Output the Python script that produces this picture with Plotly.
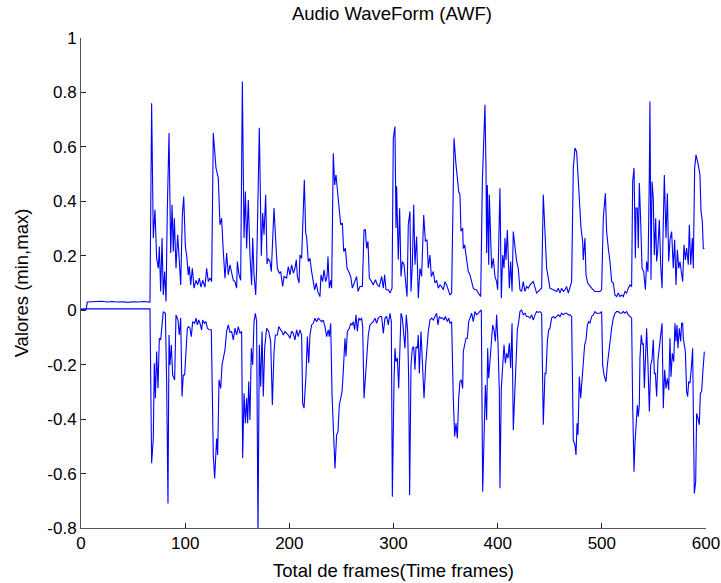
import plotly.graph_objects as go

# ---- data (frames, values) ----
upper_x = [0, 5, 6, 10, 15, 20, 25, 30, 35, 40, 45, 50, 55, 60, 66.2,
           67.8, 69.4, 71.0, 72.6, 74.2, 75.2, 76.5, 77.8, 79.0, 80.3, 81.6, 82.9, 84.5, 86.1, 87.4,
           88.6, 89.6, 91.2, 92.8, 94.4, 95.7, 97.3, 98.6, 100.2, 101.4, 103.0, 104.0, 105.3, 106.9,
           108.5, 110.4, 112.0, 113.6, 115.2, 116.8, 119.0, 120.6, 122.2, 123.8, 125.4, 127.0, 129.6,
           131.8, 133.4, 135.0, 136.6, 138.2, 139.8, 141.4, 143.0, 144.6, 146.2, 147.8, 149.4, 150.1,
           151.7, 153.3, 154.9, 156.5, 157.8, 159.0, 160.6, 162.2, 163.8, 164.8, 166.1, 167.7, 168.6,
           171.2, 173.1, 174.4, 175.7, 177.3, 178.6, 179.8, 181.4, 182.7, 185.3, 187.2, 188.5, 190.4,
           191.7, 193.6, 194.9, 197.4, 199.0, 200.6, 202.2, 203.8, 205.4, 206.7, 207.7, 209.3, 210.2,
           211.8, 214.4, 215.7, 216.6, 218.2, 219.8, 221.4, 223.0, 224.3, 225.9, 227.2, 229.4, 230.4,
           232.0, 233.3, 234.9, 236.2, 237.1, 238.4, 239.7, 240.6, 242.2, 243.5, 244.8, 247.0, 249.3,
           250.9, 252.2, 253.8, 255.4, 257.0, 258.9, 260.5, 263.0, 264.6, 265.9, 267.8, 270.1, 271.7,
           273.0, 274.2, 275.5, 276.8, 279.0, 280.6, 282.6, 284.5, 286.4, 288.6, 290.2, 291.5, 292.8,
           295.0, 296.6, 298.6, 299.8, 301.4, 302.4, 303.0, 304.6, 305.9, 307.2, 308.5, 310.1, 311.4,
           313.0, 314.2, 315.8, 316.8, 318.1, 319.4, 320.6, 322.2, 323.8, 325.4, 327.0, 329.0, 330.6,
           332.2, 333.4, 335.0, 336.3, 338.2, 339.8, 341.4, 343.0, 344.6, 346.2, 347.8, 349.4, 351.0,
           352.6, 354.2, 355.8, 358.1, 360.0, 361.3, 362.6, 363.8, 364.8, 366.4, 367.0, 368.3, 370.2,
           371.8, 373.4, 375.0, 376.6, 378.2, 379.8, 381.4, 383.7, 385.3, 387.8, 388.8, 389.4, 390.1,
           391.4, 392.0, 394.2, 395.8, 397.4, 399.0, 400.0, 402.2, 403.5, 404.8, 406.1, 407.0, 408.0,
           409.3, 411.2, 412.5, 413.8, 415.0, 416.6, 418.2, 419.8, 421.4, 423.0, 424.6, 426.2, 427.8,
           429.4, 431.0, 434.2, 435.8, 437.4, 439.0, 440.6, 442.2, 443.8, 445.4, 447.0, 448.6, 450.2,
           453.4, 456.6, 458.2, 459.8, 461.4, 463.0, 464.6, 466.2, 467.8, 469.4, 471.0, 472.6, 474.2,
           475.8, 477.4, 478.4, 480.0, 481.6, 482.2, 483.8, 484.8, 486.4, 488.6, 490.2, 491.8, 493.4,
           495.0, 498.2, 499.8, 501.4, 503.4, 504.6, 506.2, 507.8, 509.4, 511.0, 512.6, 514.2, 515.8,
           517.4, 519.0, 520.6, 522.2, 523.8, 525.4, 527.0, 528.6, 529.6, 530.9, 532.2, 532.8, 534.1,
           535.0, 536.0, 537.3, 538.6, 540.2, 541.8, 543.0, 544.3, 545.6, 546.2, 547.2, 548.2, 549.4,
           550.4, 551.7, 552.6, 553.6, 555.2, 556.5, 557.8, 558.7, 560.0, 561.6, 562.9, 564.2, 565.4,
           567.0, 568.6, 569.9, 571.2, 572.5, 573.8, 575.0, 576.3, 577.6, 578.9, 580.2, 581.4, 583.0,
           584.0, 585.3, 586.9, 587.8, 589.1, 590.4, 592.6, 594.2, 595.2, 596.5, 597.4, 598.4]
upper_y = [0.003, 0.004, 0.030, 0.031, 0.030, 0.033, 0.030, 0.032, 0.030, 0.031, 0.029, 0.031, 0.030, 0.032, 0.030,
           0.760, 0.265, 0.369, 0.191, 0.154, 0.234, 0.069, 0.265, 0.056, 0.142, 0.032, 0.375, 0.651, 0.210, 0.387,
           0.216, 0.338, 0.154, 0.277, 0.179, 0.093, 0.350, 0.418, 0.234, 0.203, 0.130, 0.161, 0.093, 0.154,
           0.081, 0.110, 0.093, 0.118, 0.085, 0.110, 0.085, 0.154, 0.105, 0.118, 0.105, 0.651, 0.522,
           0.485, 0.314, 0.338, 0.216, 0.118, 0.210, 0.130, 0.167, 0.142, 0.110, 0.105, 0.081, 0.179,
           0.130, 0.110, 0.840, 0.265, 0.436, 0.227, 0.405, 0.203, 0.093, 0.265, 0.130, 0.056, 0.154,
           0.670, 0.200, 0.357, 0.277, 0.424, 0.170, 0.190, 0.179, 0.142, 0.375, 0.234, 0.154, 0.136,
           0.142, 0.087, 0.124, 0.118, 0.160, 0.130, 0.167, 0.136, 0.154, 0.185, 0.124, 0.100, 0.203,
           0.191, 0.479, 0.283, 0.270, 0.179, 0.191, 0.142, 0.105, 0.075, 0.100, 0.069, 0.050, 0.130,
           0.105, 0.148, 0.105, 0.124, 0.197, 0.081, 0.110, 0.081, 0.577, 0.460, 0.497, 0.400, 0.314,
           0.320, 0.216, 0.228, 0.154, 0.142, 0.124, 0.081, 0.105, 0.124, 0.069, 0.087, 0.087, 0.295,
           0.295, 0.227, 0.253, 0.118, 0.105, 0.093, 0.112, 0.093, 0.087, 0.124, 0.081, 0.130, 0.075,
           0.075, 0.063, 0.081, 0.632, 0.675, 0.302, 0.455, 0.185, 0.375, 0.124, 0.179, 0.167, 0.105,
           0.050, 0.314, 0.363, 0.069, 0.167, 0.387, 0.167, 0.271, 0.044, 0.154, 0.124, 0.350, 0.253,
           0.259, 0.154, 0.203, 0.124, 0.142, 0.100, 0.110, 0.081, 0.093, 0.087, 0.075, 0.105, 0.093,
           0.075, 0.056, 0.063, 0.632, 0.535, 0.485, 0.436, 0.424, 0.290, 0.302, 0.227, 0.240, 0.179,
           0.142, 0.130, 0.105, 0.081, 0.075, 0.075, 0.063, 0.050, 0.473, 0.755, 0.522, 0.210, 0.460,
           0.167, 0.424, 0.154, 0.191, 0.124, 0.105, 0.075, 0.448, 0.044, 0.203, 0.154, 0.265, 0.185,
           0.295, 0.081, 0.179, 0.069, 0.289, 0.240, 0.179, 0.154, 0.075, 0.069, 0.105, 0.069, 0.087,
           0.081, 0.093, 0.105, 0.087, 0.063, 0.069, 0.075, 0.081, 0.424, 0.302, 0.154, 0.118, 0.081,
           0.075, 0.069, 0.081, 0.063, 0.081, 0.069, 0.075, 0.087, 0.063, 0.081, 0.105, 0.522, 0.596,
           0.583, 0.455, 0.375, 0.302, 0.253, 0.185, 0.265, 0.130, 0.100, 0.087, 0.081, 0.075, 0.069,
           0.069, 0.069, 0.075, 0.338, 0.430, 0.289, 0.228, 0.179, 0.105, 0.100, 0.056, 0.050, 0.063,
           0.050, 0.056, 0.050, 0.069, 0.063, 0.081, 0.093, 0.087, 0.473, 0.522, 0.191, 0.375, 0.375,
           0.228, 0.467, 0.326, 0.154, 0.142, 0.075, 0.179, 0.142, 0.497, 0.767, 0.112, 0.473, 0.412,
           0.203, 0.338, 0.179, 0.216, 0.332, 0.167, 0.081, 0.265, 0.497, 0.265, 0.430, 0.179, 0.259,
           0.289, 0.154, 0.259, 0.093, 0.222, 0.154, 0.179, 0.130, 0.105, 0.240, 0.185, 0.228, 0.167,
           0.314, 0.167, 0.265, 0.154, 0.522, 0.571, 0.534, 0.497, 0.363, 0.326, 0.228, 0.225]

lower_x = [0, 4, 66.2,
           67.8, 69.4, 70.4, 71.4, 72.6, 73.9, 75.2, 76.5, 77.8, 79.0, 81.0, 82.2, 83.5, 84.5, 85.4,
           86.7, 88.0, 89.9, 91.2, 93.1, 94.4, 95.7, 97.0, 98.2, 99.5, 100.8, 102.1, 103.4, 104.6,
           105.9, 107.2, 109.1, 110.4, 111.7, 113.0, 114.2, 115.8, 116.8, 118.4, 120.0, 121.3, 123.2,
           125.1, 127.0, 128.3, 130.2, 131.2, 132.5, 134.1, 135.4, 136.6, 138.2, 139.8, 141.4, 143.0,
           144.6, 146.2, 147.8, 149.4, 151.0, 152.6, 154.2, 155.2, 156.5, 157.8, 159.0, 160.0, 161.0,
           162.2, 163.5, 164.8, 166.1, 167.4, 168.6, 169.9, 171.2, 172.5, 173.8, 175.0, 176.3, 178.2,
           180.2, 182.1, 183.7, 185.3, 186.6, 188.5, 189.8, 191.7, 193.0, 194.2, 195.8, 197.4, 199.0,
           200.6, 202.2, 203.8, 205.4, 207.0, 208.6, 210.2, 211.8, 212.8, 214.1, 216.0, 217.3, 218.6,
           219.8, 221.4, 223.0, 224.6, 226.2, 227.8, 229.4, 231.0, 232.6, 234.2, 235.8, 237.4, 238.4,
           239.7, 241.0, 242.2, 243.8, 245.4, 246.7, 248.0, 249.3, 250.6, 251.8, 253.4, 254.4, 255.7,
           257.6, 258.9, 260.2, 261.4, 262.7, 264.0, 265.3, 266.6, 267.8, 269.4, 270.4, 271.7, 273.0,
           274.2, 275.8, 277.4, 279.4, 280.6, 282.2, 283.8, 285.4, 287.0, 288.6, 290.2, 291.8, 293.4,
           295.0, 296.6, 297.9, 298.9, 300.5, 301.4, 302.4, 303.7, 305.0, 306.2, 307.2, 308.5, 309.4,
           311.0, 312.3, 313.6, 314.6, 315.5, 316.8, 318.1, 319.4, 320.6, 321.6, 322.9, 323.8, 324.8,
           326.4, 328.0, 329.3, 330.9, 332.2, 333.4, 335.0, 336.6, 338.2, 339.8, 341.4, 342.7, 344.0,
           345.3, 347.2, 348.5, 349.8, 351.7, 353.0, 354.2, 355.8, 357.4, 358.7, 360.0, 361.3, 362.6,
           363.8, 365.1, 366.4, 367.0, 368.3, 369.6, 370.9, 372.2, 373.4, 375.0, 376.6, 378.2, 379.8,
           381.4, 383.0, 384.3, 385.6, 386.9, 388.2, 389.4, 390.4, 391.4, 392.6, 393.9, 395.2, 396.5,
           397.8, 399.0, 400.3, 401.6, 402.2, 403.5, 404.8, 406.1, 407.4, 408.6, 409.9, 411.2, 412.5,
           413.8, 415.0, 416.3, 417.6, 418.9, 420.2, 421.4, 423.0, 424.6, 426.2, 427.8, 429.4, 431.0,
           432.6, 434.2, 435.8, 437.4, 439.0, 440.6, 442.2, 443.8, 445.4, 446.4, 447.7, 449.0, 450.2,
           451.8, 453.4, 455.0, 456.6, 458.2, 459.8, 461.4, 463.0, 464.6, 466.2, 467.8, 469.4, 471.0,
           472.6, 474.2, 475.2, 476.2, 477.1, 478.4, 479.7, 481.0, 482.2, 483.5, 484.8, 486.1, 487.4,
           488.6, 490.2, 491.8, 493.4, 495.0, 496.6, 498.2, 499.8, 500.8, 502.1, 504.0, 505.3, 506.6,
           507.8, 509.4, 511.0, 512.6, 514.2, 515.8, 517.4, 519.0, 520.6, 522.2, 523.8, 525.4, 527.0,
           528.6, 529.6, 530.9, 531.8, 532.8, 534.1, 535.0, 536.0, 536.6, 537.9, 538.9, 539.8, 540.8,
           542.1, 543.0, 544.3, 545.6, 546.9, 548.2, 549.4, 550.4, 551.4, 552.6, 553.9, 555.2, 556.5,
           557.8, 559.0, 560.3, 561.6, 562.9, 564.2, 565.4, 566.4, 567.7, 569.0, 570.2, 571.2, 572.2,
           573.1, 574.4, 575.7, 576.6, 577.6, 578.2, 579.2, 580.2, 581.4, 582.4, 583.4, 584.6, 585.9,
           587.2, 587.8, 588.8, 590.1, 591.0, 592.3, 593.6, 594.6, 595.8, 597.0, 598.4]
lower_y = [0.003, 0.005, 0.005,
           -0.562, -0.471, -0.195, -0.323, -0.152, -0.287, -0.103, -0.109, -0.054, -0.005, -0.011, -0.262, -0.710, -0.091, -0.201,
           -0.127, -0.238, -0.256, -0.017, -0.036, -0.091, -0.029, -0.317, -0.238, -0.238, -0.140, -0.066, -0.060, -0.066,
           -0.097, -0.042, -0.048, -0.029, -0.054, -0.036, -0.048, -0.072, -0.036, -0.048, -0.042, -0.066, -0.072,
           -0.072, -0.532, -0.618, -0.471, -0.532, -0.256, -0.287, -0.201, -0.176, -0.146, -0.078, -0.054, -0.081,
           -0.078, -0.109, -0.066, -0.091, -0.060, -0.085, -0.078, -0.544, -0.305, -0.415, -0.323, -0.415, -0.262,
           -0.403, -0.140, -0.201, -0.042, -0.011, -0.042, -0.820, -0.127, -0.281, -0.078, -0.317, -0.140, -0.066,
           -0.078, -0.115, -0.348, -0.152, -0.091, -0.091, -0.060, -0.072, -0.078, -0.091, -0.078, -0.085, -0.091,
           -0.103, -0.078, -0.085, -0.109, -0.072, -0.097, -0.072, -0.091, -0.342, -0.360, -0.238, -0.097, -0.195,
           -0.091, -0.054, -0.048, -0.029, -0.042, -0.029, -0.036, -0.042, -0.036, -0.060, -0.097, -0.072, -0.097,
           -0.048, -0.311, -0.446, -0.581, -0.458, -0.446, -0.348, -0.323, -0.299, -0.225, -0.103, -0.170, -0.078,
           -0.066, -0.048, -0.054, -0.042, -0.072, -0.017, -0.078, -0.029, -0.036, -0.029, -0.060, -0.323, -0.250,
           -0.170, -0.091, -0.054, -0.048, -0.042, -0.029, -0.048, -0.029, -0.023, -0.023, -0.085, -0.029, -0.023,
           -0.054, -0.011, -0.042, -0.685, -0.262, -0.140, -0.189, -0.176, -0.287, -0.085, -0.011, -0.029, -0.078,
           -0.140, -0.017, -0.078, -0.262, -0.679, -0.201, -0.140, -0.134, -0.219, -0.134, -0.140, -0.091, -0.232,
           -0.078, -0.201, -0.323, -0.201, -0.115, -0.078, -0.036, -0.029, -0.036, -0.023, -0.011, -0.054, -0.023,
           -0.029, -0.029, -0.036, -0.023, -0.042, -0.029, -0.048, -0.042, -0.323, -0.464, -0.415, -0.471, -0.323,
           -0.262, -0.256, -0.287, -0.152, -0.127, -0.103, -0.103, -0.042, -0.029, -0.011, -0.042, -0.005, -0.017,
           -0.011, -0.005, 0.001, -0.667, -0.471, -0.275, -0.403, -0.140, -0.250, -0.176, -0.091, -0.054, -0.072,
           -0.115, -0.017, -0.121, -0.299, -0.654, -0.287, -0.201, -0.127, -0.195, -0.158, -0.176, -0.121, -0.213,
           -0.048, -0.440, -0.323, -0.176, -0.072, -0.042, -0.005, 0.001, -0.017, -0.011, -0.023, -0.023, -0.029,
           -0.017, -0.036, -0.017, -0.005, -0.008, -0.005, -0.011, -0.421, -0.232, -0.232, -0.115, -0.072, -0.066,
           -0.029, -0.023, -0.029, -0.023, -0.017, -0.023, -0.011, -0.017, -0.011, -0.011, -0.017, -0.017, -0.023,
           -0.477, -0.495, -0.532, -0.415, -0.458, -0.244, -0.323, -0.262, -0.176, -0.127, -0.109, -0.054, -0.042,
           -0.048, -0.023, -0.017, -0.005, -0.011, -0.011, -0.011, -0.005, -0.201, -0.238, -0.263, -0.201, -0.152,
           -0.103, -0.066, -0.029, -0.011, -0.005, -0.005, -0.011, -0.011, -0.005, -0.011, -0.005, -0.017, -0.023,
           -0.029, -0.348, -0.593, -0.489, -0.403, -0.348, -0.391, -0.348, -0.176, -0.091, -0.127, -0.121, -0.287,
           -0.140, -0.066, -0.201, -0.372, -0.201, -0.182, -0.109, -0.232, -0.232, -0.317, -0.182, -0.127, -0.091,
           -0.048, -0.360, -0.219, -0.287, -0.250, -0.293, -0.103, -0.244, -0.158, -0.189, -0.048, -0.115, -0.054,
           -0.140, -0.066, -0.115, -0.048, -0.048, -0.103, -0.140, -0.152, -0.299, -0.317, -0.262, -0.268, -0.213,
           -0.140, -0.360, -0.673, -0.630, -0.379, -0.397, -0.421, -0.305, -0.299, -0.225, -0.152]

x_ticks = [0, 100, 200, 300, 400, 500, 600]
y_ticks = [-0.8, -0.6, -0.4, -0.2, 0, 0.2, 0.4, 0.6, 0.8, 1]
y_tick_text = ["-0.8", "-0.6", "-0.4", "-0.2", "0", "0.2", "0.4", "0.6", "0.8", "1"]

BLUE = "#0000FF"
AXC = "#555555"
FONT = "Liberation Sans, Arial, sans-serif"
LABEL_SIZE = 18.5
TICK_SIZE = 17

fig = go.Figure()
fig.add_trace(go.Scatter(x=upper_x, y=upper_y, mode="lines",
                         line=dict(color=BLUE, width=1.1), showlegend=False))
fig.add_trace(go.Scatter(x=lower_x, y=lower_y, mode="lines",
                         line=dict(color=BLUE, width=1.1), showlegend=False))

fig.update_layout(
    width=721, height=583,
    margin=dict(l=81, r=15, t=38, b=55, autoexpand=False),
    paper_bgcolor="white", plot_bgcolor="white",
    font=dict(family=FONT, color="black", size=TICK_SIZE),
    title=dict(text="Audio WaveForm (AWF)", x=392 / 721, xanchor="center",
               y=1 - 14 / 583, yanchor="middle", yref="container",
               font=dict(size=LABEL_SIZE, family=FONT, color="black")),
)
fig.update_xaxes(
    range=[0, 600], tickvals=x_ticks, ticktext=[str(v) for v in x_ticks],
    showgrid=False, zeroline=False, showline=True, linecolor=AXC, linewidth=1,
    mirror=False, ticks="inside", ticklen=5, tickcolor="#222222", automargin=False,
    tickfont=dict(size=TICK_SIZE, family=FONT, color="black"),
    title=dict(text="Total de frames(Time frames)", standoff=11,
               font=dict(size=LABEL_SIZE, family=FONT, color="black")),
)
fig.update_yaxes(
    range=[-0.8, 1], tickvals=y_ticks, ticktext=y_tick_text,
    showgrid=False, zeroline=False, showline=True, linecolor=AXC, linewidth=1,
    mirror=False, ticks="inside", ticklen=5, tickcolor="#222222", automargin=False,
    tickfont=dict(size=TICK_SIZE, family=FONT, color="black"),
    title=dict(text="Valores (min,max)", standoff=13,
               font=dict(size=LABEL_SIZE, family=FONT, color="black")),
)

fig.write_html("out.html")
